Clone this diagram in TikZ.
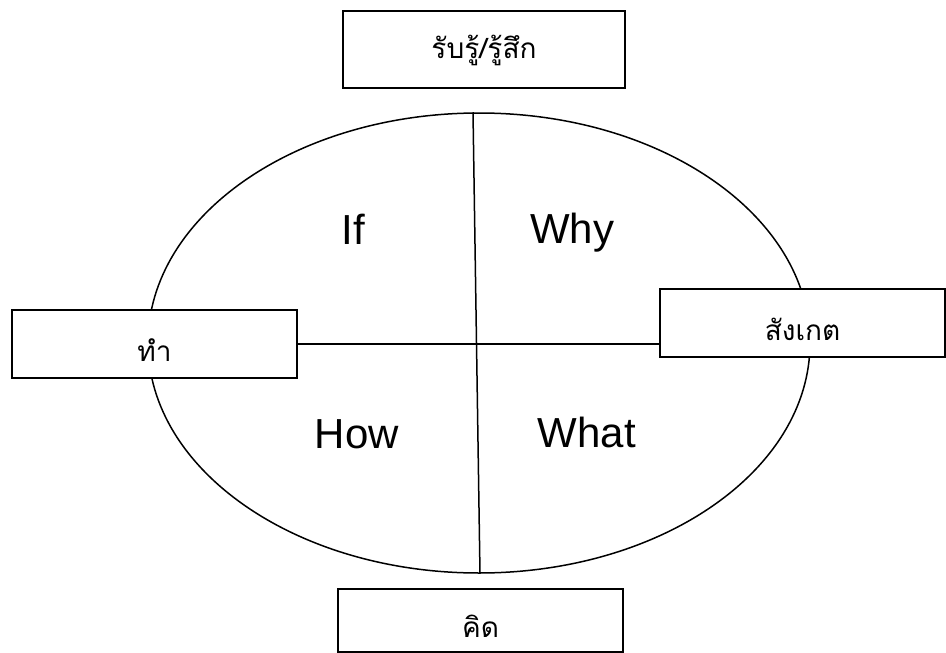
\documentclass[tikz,border=0pt]{standalone}
\usepackage{fontspec}
\setmainfont{Liberation Sans}
\newfontfamily\thai[Script=Thai]{Loma}
\usetikzlibrary{shapes.geometric}
\begin{document}
\begin{tikzpicture}[x=1pt,y=-1pt,line width=1.5pt,
  box/.style={draw,fill=white,rectangle,minimum width=285pt,minimum height=68pt,inner sep=0pt,font=\thai\fontsize{28}{32}\selectfont,text height=34pt,text depth=0pt},
  word/.style={anchor=base,font=\fontsize{42}{48}\selectfont}]
\useasboundingbox (0,0) rectangle (946,653);
\node[draw,ellipse,minimum width=662pt,minimum height=460pt,inner sep=0pt] (oval) at (479,343) {};
\node[box,minimum width=282pt,minimum height=77pt,text height=17pt] (feel) at (484,49.5) {รับรู้/รู้สึก};
\node[box] (act) at (154.5,344) {ทำ};
\node[box] (watch) at (802.5,323) {สังเกต};
\node[box,minimum height=63pt] (think) at (480.5,620.5) {คิด};
% quadrants
\draw ([xshift=-6pt]oval.north) -- ([xshift=1pt]oval.south);
\draw (act.east) -- (act.east -| watch.west);
\node[word] (if) at (353,244) {If};
\node[word] (why) at (572,243) {Why};
\node[word] (how) at (357,448) {How};
\node[word] (what) at (587,447) {What};
\end{tikzpicture}
\end{document}
